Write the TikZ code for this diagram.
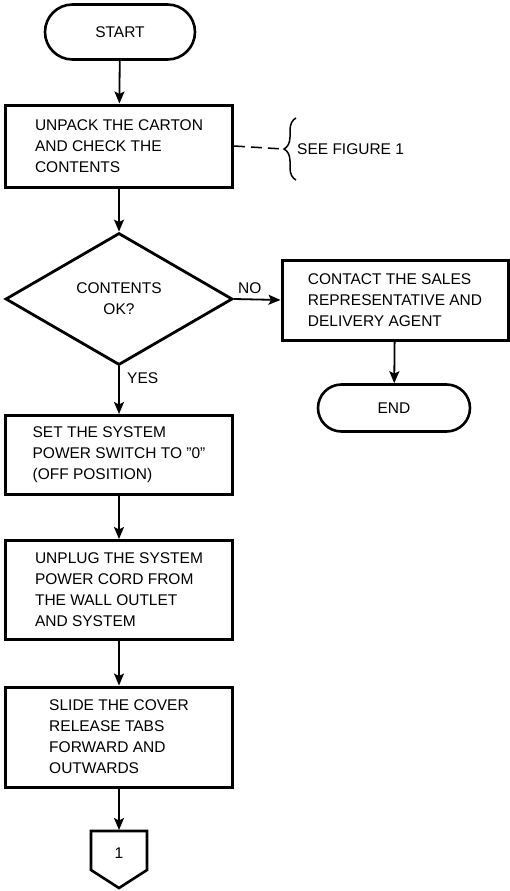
\documentclass[tikz,border=0pt]{standalone}
\usepackage{fontspec}
\setmainfont{Liberation Sans}
\usepackage{tikz}
\usetikzlibrary{shapes.geometric, shapes.misc, arrows.meta, decorations.pathreplacing, positioning}
\tikzset{every picture/.append style={line join=miter}}
\tikzset{
  stepbox/.style={draw, line width=3pt, rectangle, minimum width=227pt, align=left, inner sep=0pt},
  terminal/.style={draw, line width=2.6pt, rounded rectangle, inner sep=0pt},
  decision/.style={draw, line width=2.8pt, diamond, minimum width=227pt, minimum height=132pt, inner sep=0pt, align=center},
  flow/.style={line width=1.8pt, -{Stealth[length=12pt,width=10pt,inset=2.5pt]}},
  tag/.style={inner sep=0pt}
}

\begin{document}
\begin{tikzpicture}[x=1pt, y=-1pt, font=\fontsize{15.5}{21}\selectfont]
    \useasboundingbox (0,0) rectangle (510,891);

    \node[terminal, minimum width=150pt, minimum height=55pt] (start) at (120,32) {START};
    \node[stepbox, minimum height=82pt] (unpack) at (119,146) {UNPACK THE CARTON\\AND CHECK THE\\CONTENTS};
    \node[decision] (check) at (119,299) {CONTENTS\\OK?};
    \node[stepbox, minimum width=226pt, minimum height=80pt] (contact) at (395,300) {CONTACT THE SALES\\REPRESENTATIVE AND\\DELIVERY AGENT};
    \node[terminal, minimum width=152pt, minimum height=47pt] (end) at (394,408) {END};
    \node[stepbox, minimum height=79pt] (switch) at (119,455) {SET THE SYSTEM\\POWER SWITCH TO "0"\\(OFF POSITION)};
    \node[stepbox, minimum height=99pt] (unplug) at (119,590) {UNPLUG THE SYSTEM\\POWER CORD FROM\\THE WALL OUTLET\\AND SYSTEM};
    \node[stepbox, minimum height=100pt] (slide) at (119,737) {SLIDE THE COVER\\RELEASE TABS\\FORWARD AND\\OUTWARDS};

    % off-page connector
    \coordinate (conntop) at (119,830);
    \draw[line width=2.6pt] (91,831) -- (147,831) -- (147,870) -- (119,888) -- (91,870) -- cycle;
    \node[tag] (page) at (119,853) {1};

    % reference to figure 1
    \coordinate (bracetip) at (283,149);
    \draw[line width=1.5pt, dash pattern=on 11pt off 6pt] (unpack.east) -- (bracetip);
    \draw[line width=1.5pt, decorate, decoration={brace, amplitude=12pt}] (296,180) -- (296,118);
    \node[tag, anchor=west] (seefig) at (297,149) {SEE FIGURE 1};

    \draw[flow] (start) -- (unpack);
    \draw[flow] (unpack) -- (check);
    \draw[flow] (check.east) -- (contact.west);
    \draw[flow] (contact) -- (end);
    \draw[flow] (check.south) -- (switch.north);
    \draw[flow] (switch) -- (unplug);
    \draw[flow] (unplug) -- (slide);
    \draw[flow] (slide.south) -- (conntop);

    \node[tag, anchor=south west] (no) at ([xshift=4pt, yshift=5pt]check.east) {NO};
    \node[tag, anchor=west] (yes) at ([xshift=8pt, yshift=-12pt]check.south) {YES};
\end{tikzpicture}
\end{document}
